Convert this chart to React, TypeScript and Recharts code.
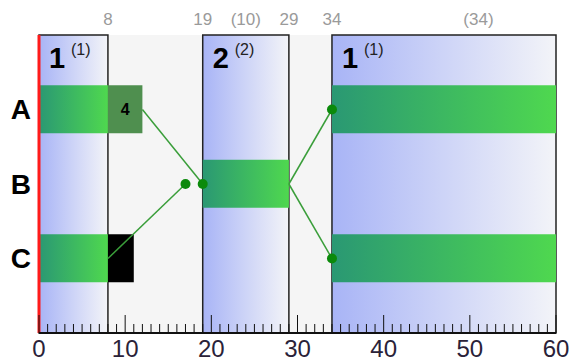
import React from "react";
import {
  ComposedChart,
  Bar,
  Cell,
  LabelList,
  XAxis,
  YAxis,
  CartesianGrid,
  ReferenceArea,
  ReferenceLine,
  Scatter,
} from "recharts";

// rows on the vertical axis
const rows = ["A", "B", "C"];
const rowPos = [1, 2, 3];

// shaded sections
const sectionStart = [0, 19, 34];
const sectionEnd = [8, 29, 60];
const sectionCount = ["1", "2", "1"];
const sectionNote = ["(1)", "(2)", "(1)"];

// labels above the plot
const topTickValues = [8, 19, 24, 29, 34, 51];
const topTickLabels = ["8", "19", "(10)", "29", "34", "(34)"];

// bottom axis
const majorTicks = [0, 10, 20, 30, 40, 50, 60];
const minorTicks = Array.from({ length: 61 }, (_, i) => i);

// segments per row (A, B, C)
const mainSeg = [[0, 8], [19, 29], [0, 8]];
const extraSeg = [[8, 12], undefined, [8, 11]];
const extraText = ["4", "", ""];
const extraColor = ["#4f8f4f", "none", "#000000"];
const lateSeg = [[34, 60], undefined, [34, 60]];

// connectors between rows
const linkFromX = [12, 8, 29, 29];
const linkFromRow = ["A", "C", "B", "B"];
const linkToX = [19, 17, 34, 34];
const linkToRow = ["B", "B", "A", "C"];

const rowOf = (r: string) => rowPos[rows.indexOf(r)];

const data = rows.map((r, i) => ({
  row: r,
  y: rowPos[i],
  main: mainSeg[i],
  extra: extraSeg[i],
  extraText: extraText[i],
  late: lateSeg[i],
}));

const links = linkFromX.map((fx, i) => [
  { x: fx, y: rowOf(linkFromRow[i]) },
  { x: linkToX[i], y: rowOf(linkToRow[i]) },
]);
const linkEnds = linkToX.map((tx, i) => ({ x: tx, y: rowOf(linkToRow[i]) }));

const FONT = '"Liberation Sans", Arial, sans-serif';

function BottomTick(props: any) {
  const { x, y, payload } = props;
  const major = majorTicks.includes(payload.value);
  return (
    <g>
      <line x1={x} x2={x} y1={y} y2={y - (major ? 18 : 9)} stroke="#111" strokeWidth={1} />
      {major && (
        <text x={x} y={y + 24} textAnchor="middle" fontSize={24} fill="#2a2238">
          {payload.value}
        </text>
      )}
    </g>
  );
}

function sectionLabel(i: number) {
  return (p: any) => {
    const vb = p.viewBox || {};
    return (
      <g>
        <text x={vb.x + 10} y={vb.y + 33} fontSize={29} fontWeight="bold" fill="#000">
          {sectionCount[i]}
        </text>
        <text x={vb.x + 32} y={vb.y + 20} fontSize={16} fill="#222">
          {sectionNote[i]}
        </text>
      </g>
    );
  };
}

export default function App() {
  return (
    <div style={{ position: "absolute", left: 0, top: 0, fontFamily: FONT, background: "#fff" }}>
      <ComposedChart
        width={569}
        height={361}
        data={data}
        layout="vertical"
        margin={{ top: 0, right: 13, bottom: 0, left: 0 }}
        barGap={-48}
      >
        <defs>
          <linearGradient id="greenGrad" x1="0" y1="0" x2="1" y2="0">
            <stop offset="0" stopColor="#2a9873" />
            <stop offset="1" stopColor="#4fd84f" />
          </linearGradient>
          <linearGradient id="blueGrad" x1="0" y1="0" x2="1" y2="0">
            <stop offset="0" stopColor="#a8b4f6" />
            <stop offset="1" stopColor="#f3f4f8" />
          </linearGradient>
        </defs>
        <CartesianGrid fill="#f5f5f5" horizontal={false} vertical={false} />
        <XAxis
          type="number"
          dataKey="x"
          domain={[0, 60]}
          allowDataOverflow
          ticks={minorTicks}
          interval={0}
          height={28}
          tickSize={0}
          tickMargin={0}
          tickLine={false}
          axisLine={{ stroke: "#111", strokeWidth: 2 }}
          tick={<BottomTick />}
        />
        <XAxis
          xAxisId="top"
          orientation="top"
          type="number"
          domain={[0, 60]}
          allowDataOverflow
          ticks={topTickValues}
          interval={0}
          height={35}
          tickSize={0}
          tickMargin={10}
          tickLine={false}
          axisLine={false}
          tickFormatter={(v: number) => topTickLabels[topTickValues.indexOf(v)]}
          tick={{ fontSize: 17, fill: "#9a9a9a" }}
        />
        <YAxis
          type="number"
          dataKey="y"
          domain={[0, 4]}
          ticks={rowPos}
          interval={0}
          width={39}
          axisLine={false}
          tickLine={false}
          tickFormatter={(v: number) => rows[rowPos.indexOf(v)]}
          tick={{ fontSize: 28, fontWeight: "bold", fill: "#000" }}
        />
        {sectionStart.map((s, i) => (
          <ReferenceArea
            key={"fill" + i}
            x1={s}
            x2={sectionEnd[i]}
            fill="url(#blueGrad)"
            fillOpacity={1}
            stroke="none"
            label={sectionLabel(i)}
          />
        ))}
        <Bar dataKey="main" barSize={48} fill="url(#greenGrad)" isAnimationActive={false} />
        <Bar dataKey="late" barSize={48} fill="url(#greenGrad)" isAnimationActive={false} />
        <Bar dataKey="extra" barSize={48} isAnimationActive={false}>
          {data.map((d, i) => (
            <Cell key={d.row} fill={extraColor[i]} />
          ))}
          <LabelList dataKey="extraText" position="center" fill="#000" fontSize={16} fontWeight="bold" />
        </Bar>
        {sectionStart.map((s, i) => (
          <ReferenceArea
            key={"box" + i}
            x1={s}
            x2={sectionEnd[i]}
            fill="none"
            stroke="#222"
            strokeWidth={1.5}
          />
        ))}
        <ReferenceLine x={0} stroke="#ff1a1a" strokeWidth={3} />
        {links.map((pts, i) => (
          <Scatter
            key={"link" + i}
            data={pts}
            line={{ stroke: "#3a9e3a", strokeWidth: 1.5 }}
            shape={() => <g />}
            isAnimationActive={false}
          />
        ))}
        <Scatter
          data={linkEnds}
          fill="#0b8a0b"
          shape={(p: any) => <circle cx={p.cx} cy={p.cy} r={5} fill="#0b8a0b" />}
          isAnimationActive={false}
        />
      </ComposedChart>
    </div>
  );
}
